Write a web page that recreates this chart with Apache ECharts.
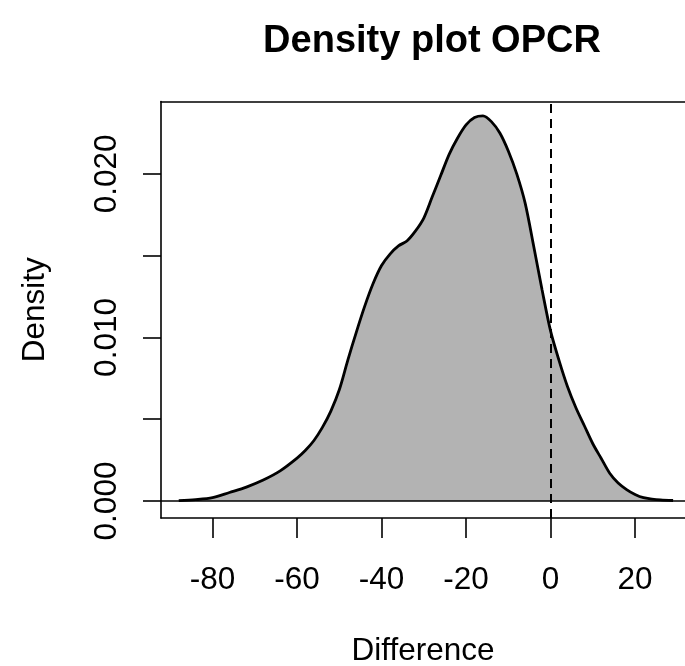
<!DOCTYPE html>
<html>
<head>
<meta charset="utf-8">
<script src="https://cdn.jsdelivr.net/npm/echarts@6/dist/echarts.min.js"></script>
<style>
  html, body { margin: 0; padding: 0; background: #fff; }
  #chart { width: 685px; height: 666px; }
</style>
</head>
<body>
<div id="chart"></div>
<script>
// density estimate of the OPCR difference
var diffValues = [-88, -84, -80, -76, -72, -68, -64, -60, -58, -56, -54, -52, -50, -48, -46, -44, -42, -40,
  -38, -36, -34, -32, -30, -28, -26, -24, -22, -20, -18, -16, -14, -12, -10, -8, -6, -4, -2, 0,
  2, 4, 6, 8, 10, 12, 14, 16, 18, 20, 22, 24, 26, 29];
var densityValues = [0.00002, 0.00008, 0.0002, 0.00052, 0.00085, 0.00128, 0.00184, 0.00262, 0.0031, 0.0037,
  0.0045, 0.0055, 0.0068, 0.0086, 0.0103, 0.0119, 0.0133, 0.0144,
  0.0151, 0.0156, 0.0159, 0.0165, 0.0173, 0.0186, 0.0199, 0.0212, 0.0222, 0.023, 0.02345, 0.02355,
  0.0232, 0.0225, 0.0214, 0.02, 0.0182, 0.0156, 0.0129, 0.0104,
  0.0086, 0.007, 0.0057, 0.0046, 0.0035, 0.0026, 0.0017, 0.0011, 0.0007, 0.0004, 0.0002, 0.00012, 0.00007, 0.00003];
var xTicks = [-80, -60, -40, -20, 0, 20];
var yTicks = [0, 0.005, 0.01, 0.015, 0.02];
var yLabels = [0, 0.01, 0.02];

var font = 'Liberation Sans, Arial, sans-serif';
var xMin = -92.2, xMax = 31.82;
var chart = echarts.init(document.getElementById('chart'));
var points = diffValues.map(function(x, i) { return [x, densityValues[i]]; });
var black = { color : '#000', width : 1.6 };

chart.setOption({
  animation : false,
  title : {
    text : 'Density plot OPCR',
    left : 427,
    textAlign : 'center',
    top : 18,
    textStyle : { fontFamily : font, fontSize : 38, fontWeight : 'bold', color : '#000' }
  },
  grid : { left : 161, top : 101.5, right : 0, height : 416.5, outerBoundsMode : 'none', containLabel : false },
  xAxis : [{
    type : 'value', min : xMin, max : xMax,
    name : 'Difference', nameLocation : 'middle', nameGap : 117,
    nameTextStyle : { fontFamily : font, fontSize : 31.5, color : '#000' },
    axisLine : { show : true, onZero : false, lineStyle : black },
    axisTick : { show : true, customValues : xTicks, length : 20, lineStyle : black },
    axisLabel : { customValues : xTicks, margin : 46, fontFamily : font, fontSize : 31.5, color : '#000' },
    splitLine : { show : false }
  }, {
    // top edge of the box
    type : 'value', position : 'top', min : xMin, max : xMax,
    axisLine : { show : true, onZero : false, lineStyle : black },
    axisTick : { show : false }, axisLabel : { show : false }, splitLine : { show : false }
  }],
  yAxis : {
    type : 'value', min : -0.00104, max : 0.02443,
    name : 'Density', nameLocation : 'middle', nameGap : 110, nameRotate : 90,
    nameTextStyle : { fontFamily : font, fontSize : 31.5, color : '#000' },
    axisLine : { show : true, onZero : false, lineStyle : black },
    axisTick : { show : true, customValues : yTicks, length : 18, lineStyle : black },
    axisLabel : {
      customValues : yLabels, rotate : 90, margin : 38, fontFamily : font, fontSize : 31.5, color : '#000',
      formatter : function(v) { return v.toFixed(3); }
    },
    splitLine : { show : false }
  },
  series : [{
    type : 'line',
    data : points,
    smooth : 0.3,
    symbol : 'none',
    lineStyle : { color : '#000', width : 2.8 },
    areaStyle : { color : '#b3b3b3', opacity : 1 },
    markLine : {
      silent : true,
      symbol : 'none',
      label : { show : false },
      data : [
        { yAxis : 0, lineStyle : { color : '#000', width : 1.6, type : 'solid' } },
        { xAxis : 0, lineStyle : { color : '#000', width : 2, type : [9, 6] } }
      ]
    }
  }]
});
</script>
</body>
</html>
